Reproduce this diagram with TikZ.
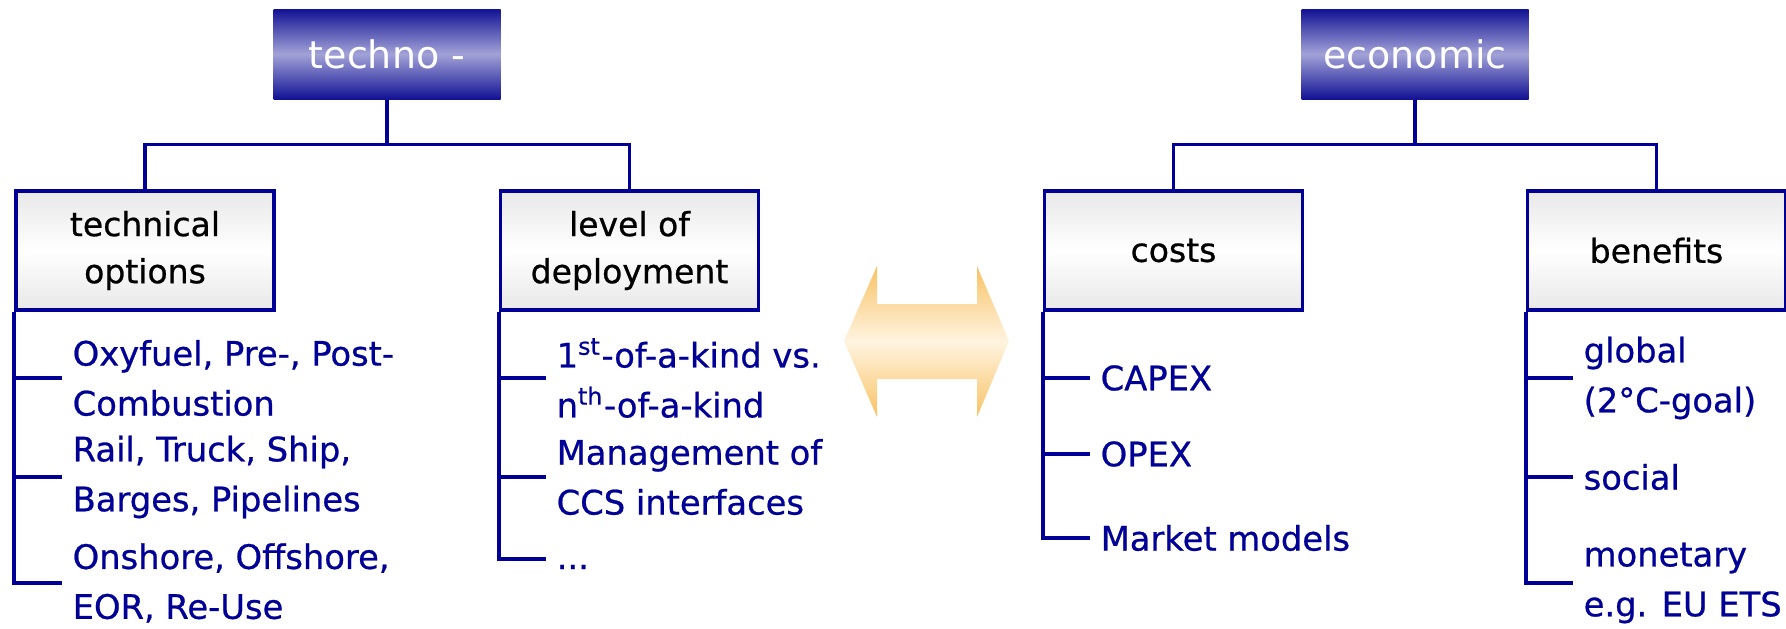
\documentclass[tikz,border=0pt]{standalone}
\usepackage{fontspec}
\setmainfont{DejaVu Sans}
\newfontfamily\medfont{DejaVu Sans}[FakeBold=0.7]
\usepackage{tikz}

\definecolor{ccsblue}{RGB}{0,0,150}
\definecolor{hdrdark}{RGB}{18,18,148}
\definecolor{hdrlight}{RGB}{162,162,216}
\definecolor{catgray}{RGB}{232,232,232}
\definecolor{arrorange}{RGB}{248,194,100}
\definecolor{arrcream}{RGB}{255,244,224}

\begin{document}
\begin{tikzpicture}[
    hdr/.style={minimum width=2.27cm, minimum height=0.9cm, top color=hdrdark, bottom color=hdrdark, middle color=hdrlight, text=white, font=\fontsize{10.8}{13}\selectfont},
    cat/.style={draw=ccsblue, line width=0.035cm, minimum width=2.58cm, minimum height=1.19cm, align=center, top color=catgray, bottom color=catgray, middle color=white, font=\medfont\fontsize{9.4}{13.4}\selectfont},
    lst/.style={anchor=west, align=left, inner xsep=0.1cm, inner ysep=0pt, text=ccsblue, font=\medfont\fontsize{9.6}{14.2}\selectfont},
    link/.style={draw=ccsblue, line width=0.035cm}
]
\useasboundingbox (0,0) rectangle (17.86,-6.29);

\node[hdr] (techno) at (3.87,-0.54) {techno -};
\node[hdr] (econ) at (14.15,-0.54) {economic};

\node[cat] (techopt) at (1.45,-2.505) {technical\\options};
\node[cat] (deploy) at (6.295,-2.505) {level of\\deployment};
\node[cat] (costs) at (11.735,-2.505) {costs};
\node[cat] (benef) at (16.565,-2.505) {benefits};

\node[lst] (opt1) at (0.62,-3.78) {Oxyfuel, Pre-, Post-\\Combustion};
\node[lst] (opt2) at (0.62,-4.77) {Rail, Truck, Ship,\\Barges, Pipelines};
\node[lst] (opt3) at (0.62,-5.83) {Onshore, Offshore,\\EOR, Re-Use};

\node[lst] (dep1) at (5.46,-3.78) {1\textsuperscript{st}-of-a-kind vs.\\n\textsuperscript{th}-of-a-kind};
\node[lst] (dep2) at (5.46,-4.77) {Management of\\CCS interfaces};
\node[lst, yshift=-0.08cm] (dep3) at (5.46,-5.59) {...};

\node[lst] (cost1) at (10.90,-3.78) {CAPEX};
\node[lst] (cost2) at (10.90,-4.54) {OPEX};
\node[lst] (cost3) at (10.90,-5.38) {Market models};

\node[lst] (ben1) at (15.73,-3.78) {global\\(2°C-goal)};
\node[lst] (ben2) at (15.73,-4.77) {social};
\node[lst] (ben3) at (15.73,-5.83) {monetary\\e.g. EU ETS};

\shade[top color=arrorange, bottom color=arrorange, middle color=arrcream]
    (8.44,-3.41) -- (8.77,-2.66) -- (8.77,-3.04) -- (9.77,-3.04) -- (9.77,-2.66)
    -- (10.09,-3.41) -- (9.77,-4.17) -- (9.77,-3.79) -- (8.77,-3.79) -- (8.77,-4.17) -- cycle;

\draw[link] (techno.south) -- ++(0,-0.45) -| (techopt.north);
\draw[link] (techno.south) -- ++(0,-0.45) -| (deploy.north);
\draw[link] (econ.south) -- ++(0,-0.45) -| (costs.north);
\draw[link] (econ.south) -- ++(0,-0.45) -| (benef.north);

\foreach \n in {opt1,opt2,opt3}
    \draw[link] (techopt.south west) |- (\n.west);
\foreach \n in {dep1,dep2}
    \draw[link] (deploy.south west) |- (\n.west);
\draw[link] (deploy.south west) |- ([yshift=0.08cm]dep3.west);
\foreach \n in {cost1,cost2,cost3}
    \draw[link] (costs.south west) |- (\n.west);
\foreach \n in {ben1,ben2,ben3}
    \draw[link] (benef.south west) |- (\n.west);
\end{tikzpicture}
\end{document}
